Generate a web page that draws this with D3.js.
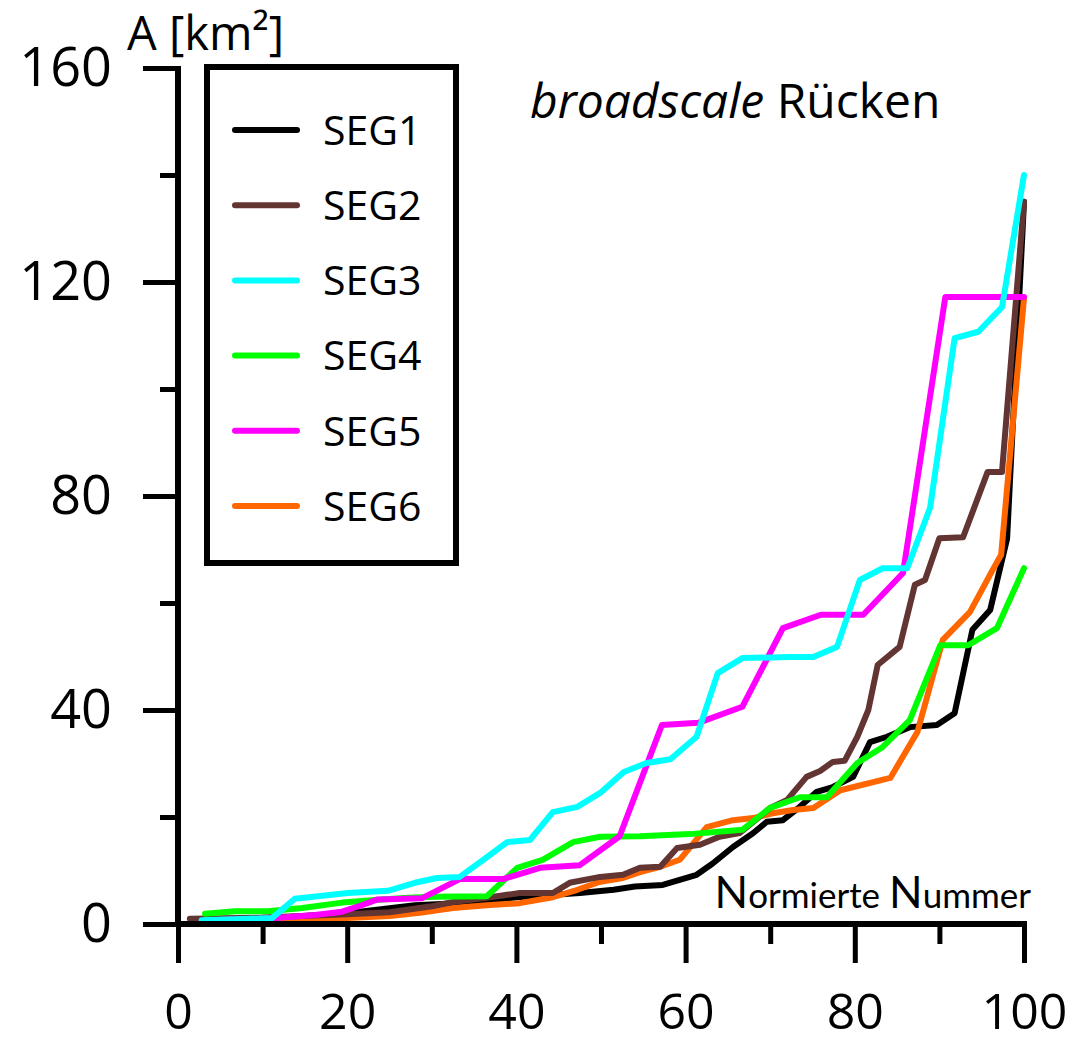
<!DOCTYPE html>
<html>
<head>
<meta charset="utf-8">
<script src="https://cdn.jsdelivr.net/npm/d3@7"></script>
<style>
  body { margin: 0; background: #fff; }
  svg { display: block; }
</style>
</head>
<body>
<svg id="chart" width="1077" height="1044"></svg>
<script>
// series: [normierte Nummer, A in km²]
var seg1 = [[2,0.5],[10,1],[20,2],[28,3.5],[35,4],[40,5],[44,5.4],[47.5,5.8],[51.5,6.4],[54,7],[57.3,7.3],[61.3,9.2],[63.2,11.3],[65.6,14.4],[68,17],[69.6,19.1],[71.5,19.4],[73.5,21.9],[75.5,24.7],[77.4,25.6],[79.8,27.5],[81.8,34],[83.8,35],[86.5,36.8],[89.7,37.2],[91.8,39.4],[93.9,55],[96,58.7],[98,72],[100,135]];
var seg2 = [[1.4,1],[10,1.2],[20,1.8],[25,2.2],[30,3.3],[32.5,4.1],[36.5,4.9],[40.4,5.8],[44.3,5.8],[46.3,7.7],[49.9,8.8],[52.6,9.2],[54.6,10.5],[57,10.7],[59,14.2],[61.7,14.8],[64,16.3],[66.4,17],[70,21.7],[72,23.2],[74.3,27.5],[75.9,28.6],[77.4,30.3],[78.8,30.5],[80.3,35],[81.6,40],[82.7,48.4],[85.3,51.8],[87.1,63.4],[88.3,64.3],[90,72.1],[92.8,72.3],[95.7,84.5],[97.4,84.5],[100,135]];
var seg3 = [[2.8,0.7],[11.1,1.1],[13.8,4.7],[20.1,5.8],[24.8,6.2],[28,7.7],[30.6,8.6],[33.3,8.8],[36.1,12],[38.9,15.3],[41.6,15.7],[44.3,20.9],[47.2,21.9],[49.9,24.5],[52.7,28.4],[55.4,30.1],[58.2,30.8],[61.3,35],[63.8,46.9],[66.7,49.7],[72.3,49.9],[75.1,49.9],[77.9,51.8],[80.6,64.3],[83.3,66.5],[86.2,66.5],[88.9,77.8],[91.8,109.5],[94.6,110.7],[97.4,115.3],[100,140]];
var seg4 = [[3.2,1.9],[6.7,2.4],[10.6,2.4],[14.7,3],[19.4,4],[23.3,4.5],[27.2,4.9],[30.4,5.1],[36.5,5.2],[40.1,10.5],[43.1,12],[46.7,15.3],[49.9,16.3],[54.6,16.4],[60.5,16.8],[66.7,17.6],[70,21.7],[73.5,23.7],[76.7,23.7],[80.3,30.1],[83.3,33.1],[86.5,38.1],[90.1,52.1],[93.4,52.1],[96.8,55.3],[100,66.5]];
var seg5 = [[2.8,0.6],[11.5,1.1],[16.2,1.7],[19.4,2.3],[21.7,3.5],[23.6,4.6],[28.8,4.8],[33.3,8.4],[38.4,8.4],[42.8,10.5],[47.5,11],[52.2,16.4],[57.2,37.2],[61.5,37.6],[66.7,40.6],[71.5,55.3],[76,57.8],[81,57.8],[85.7,65.6],[90.7,117.2],[100,117.2]];
var seg6 = [[3,0.3],[12,0.6],[20,1.1],[25,1.5],[28.6,2.1],[32.5,3],[36.5,3.5],[40.4,3.9],[44.3,5],[47.2,6.4],[49.9,7.9],[52.6,8.6],[54.6,9.7],[57,10.7],[59.3,12],[62.5,18.1],[65.6,19.4],[68,19.8],[70.3,20.7],[72.7,21.3],[75.1,21.7],[78.3,25],[84.2,27.3],[87.4,35.9],[90.4,53.1],[93.6,58.3],[96.3,66.2],[97.3,69],[100,117]];

var seriesNames = ["SEG1", "SEG2", "SEG3", "SEG4", "SEG5", "SEG6"];
var seriesColors = ["#000000", "#623432", "#00ffff", "#00ff00", "#ff00ff", "#ff6600"];
var seriesData = [seg1, seg2, seg3, seg4, seg5, seg6];
// which series gets painted first (cyan ends up on top)
var drawOrder = [0, 5, 1, 3, 4, 2];

var xMajor = [0, 20, 40, 60, 80, 100];
var xMinor = [10, 30, 50, 70, 90];
var yMajor = [0, 40, 80, 120, 160];
var yMinor = [20, 60, 100, 140];

var settings = {
    left: 178,
    right: 1024,
    top: 68,
    bottom: 924
};

var svg = d3.select("#chart");

var x = d3.scaleLinear().domain([0, 100]).range([settings.left, settings.right]);
var y = d3.scaleLinear().domain([0, 160]).range([settings.bottom, settings.top]);

var line = d3.line()
    .x(function(d){ return x(d[0]); })
    .y(function(d){ return y(d[1]); });

// data lines
var gLines = svg.append("g");
drawOrder.forEach(function(i){
    gLines.append("path")
        .datum(seriesData[i])
        .attr("d", line)
        .attr("fill", "none")
        .attr("stroke", seriesColors[i])
        .attr("stroke-width", 6)
        .attr("stroke-linejoin", "round")
        .attr("stroke-linecap", "round");
});

function styleAxis(g){
    g.select(".domain").remove();
    g.selectAll(".tick line").attr("stroke", "#000").attr("stroke-width", 5);
    g.selectAll("text")
        .attr("font-family", "'Open Sans', sans-serif")
        .attr("font-size", 54)
        .attr("fill", "#000");
}

// x axis
svg.append("g")
    .attr("transform", "translate(0," + settings.bottom + ")")
    .call(d3.axisBottom(x).tickValues(xMinor).tickSize(20).tickFormat(""))
    .call(styleAxis);
svg.append("g")
    .attr("transform", "translate(0," + settings.bottom + ")")
    .call(d3.axisBottom(x).tickValues(xMajor).tickSize(39).tickPadding(30).tickFormat(d3.format("d")))
    .call(styleAxis)
    .selectAll("text").attr("font-size", 50);

// y axis
svg.append("g")
    .attr("transform", "translate(" + settings.left + ",0)")
    .call(d3.axisLeft(y).tickValues(yMinor).tickSize(18).tickFormat(""))
    .call(styleAxis);
svg.append("g")
    .attr("transform", "translate(" + settings.left + ",0)")
    .call(d3.axisLeft(y).tickValues(yMajor).tickSize(35).tickPadding(31).tickFormat(d3.format("d")))
    .call(styleAxis);

// axis lines
svg.append("line")
    .attr("x1", settings.left).attr("x2", settings.left)
    .attr("y1", settings.top - 2).attr("y2", settings.bottom)
    .attr("stroke", "#000").attr("stroke-width", 6);
svg.append("line")
    .attr("x1", settings.left).attr("x2", settings.right + 3)
    .attr("y1", settings.bottom).attr("y2", settings.bottom)
    .attr("stroke", "#000").attr("stroke-width", 6);

// y axis title
svg.append("text")
    .attr("x", 127).attr("y", 50)
    .attr("font-family", "'Open Sans', sans-serif")
    .attr("font-size", 47)
    .text("A [km²]");

// x axis title with large capitals
var xt = svg.append("text")
    .attr("x", 1031).attr("y", 908)
    .attr("text-anchor", "end")
    .attr("font-family", "Lato, sans-serif")
    .attr("font-size", 35);
xt.append("tspan").attr("font-size", 44).text("N");
xt.append("tspan").text("ormierte ");
xt.append("tspan").attr("font-size", 44).text("N");
xt.append("tspan").text("ummer");

// title
var tt = svg.append("text")
    .attr("x", 530).attr("y", 118)
    .attr("font-family", "'Open Sans', sans-serif")
    .attr("font-size", 48);
tt.append("tspan").attr("font-style", "italic").text("broadscale");
tt.append("tspan").text(" Rücken");

// legend
var legend = svg.append("g");
legend.append("rect")
    .attr("x", 207).attr("y", 67)
    .attr("width", 249).attr("height", 496)
    .attr("fill", "#fff")
    .attr("stroke", "#000").attr("stroke-width", 6);

var legendY = d3.scalePoint().domain(seriesNames).range([130, 506]);
seriesNames.forEach(function(name, i){
    legend.append("line")
        .attr("x1", 235).attr("x2", 297)
        .attr("y1", legendY(name)).attr("y2", legendY(name))
        .attr("stroke", seriesColors[i])
        .attr("stroke-width", 6)
        .attr("stroke-linecap", "round");
    legend.append("text")
        .attr("x", 323).attr("y", legendY(name))
        .attr("dy", "0.36em")
        .attr("font-family", "'Open Sans', sans-serif")
        .attr("font-size", 41)
        .text(name);
});
</script>
</body>
</html>
